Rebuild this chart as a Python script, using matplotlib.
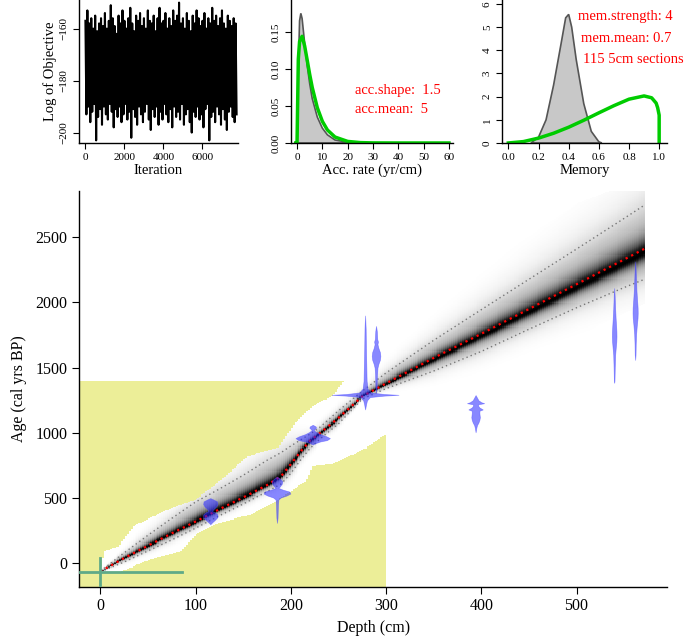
import numpy as np
import matplotlib
matplotlib.use("Agg")
import matplotlib.pyplot as plt
from matplotlib.patches import Rectangle

plt.rcParams['font.family'] = ['Liberation Serif', 'DejaVu Serif']

# ---- MCMC trace (one value kept every 50 iterations), alternating high / low swings
trace_step = 50
trace_hi = [-157, -153, -158, -156, -160, -155, -161, -158, -156, -159, -154, -160, -157,
            -151, -156, -159, -162, -155, -158, -153, -157, -160, -156, -152, -158, -161,
            -155, -157, -154, -159, -156, -160, -153, -157, -158, -155, -161, -156, -152,
            -158, -157, -154, -160, -156, -159, -153, -157, -155, -150, -158, -156, -160,
            -154, -157, -161, -155, -158, -153, -156, -159, -157, -154, -160, -156, -158,
            -152, -157, -155, -159, -156, -153, -158, -160, -155, -157, -159, -156, -158]
trace_lo = [-193, -190, -196, -192, -189, -203, -194, -191, -197, -190, -193, -195, -189,
            -192, -198, -191, -194, -190, -196, -193, -189, -195, -192, -202, -191, -194,
            -197, -190, -193, -196, -192, -189, -195, -199, -191, -194, -190, -197, -192,
            -195, -189, -193, -196, -191, -198, -190, -194, -192, -195, -189, -197, -193,
            -191, -196, -200, -192, -194, -190, -195, -193, -198, -191, -189, -203, -194,
            -192, -196, -190, -193, -197, -191, -195, -199, -192, -190, -194, -196, -193]

# ---- accumulation rate: posterior (grey) and prior (green)
acc_post_x = [0, 0.5, 1, 1.5, 2, 3, 4, 5, 6, 8, 10, 12, 15, 20, 25]
acc_post_y = [0, 0.10, 0.165, 0.175, 0.168, 0.135, 0.105, 0.08, 0.06, 0.035, 0.02, 0.011, 0.004, 0.001, 0]
acc_prior_x = [-0.5, 0, 0.5, 1, 2, 3, 4, 5, 6, 8, 10, 12, 15, 20, 25, 30, 40, 60]
acc_prior_y = [0, 0, 0.113, 0.137, 0.144, 0.131, 0.112, 0.0925, 0.075, 0.0476, 0.0292, 0.0175,
               0.008, 0.0021, 0.0005, 0.0001, 0, 0]
acc_shape, acc_mean = 1.5, 5

# ---- memory: posterior (grey) and prior (green)
mem_post_x = [0.15, 0.2, 0.25, 0.3, 0.35, 0.38, 0.4, 0.42, 0.45, 0.5, 0.55, 0.6, 0.62]
mem_post_y = [0, 0.25, 1.0, 2.5, 4.3, 5.4, 5.55, 5.0, 3.6, 1.7, 0.5, 0.05, 0]
mem_prior_x = [0, 0.1, 0.2, 0.3, 0.4, 0.5, 0.6, 0.7, 0.8, 0.9, 0.95, 0.98, 0.99, 1.0, 1.0]
mem_prior_y = [0, 0.06, 0.21, 0.42, 0.68, 0.98, 1.30, 1.61, 1.89, 2.03, 1.95, 1.72, 1.52, 1.2, 0]
mem_strength, mem_mean, n_sections, section_cm = 4, 0.7, 115, 5

# ---- age-depth model
depths = [0, 25, 50, 75, 100, 125, 150, 175, 190, 200, 210, 220, 230, 250, 275, 300,
          350, 400, 450, 500, 550, 572]
age_mean = [-62, 40, 135, 230, 320, 415, 505, 600, 670, 760, 855, 940, 995, 1115, 1280, 1380,
            1575, 1760, 1950, 2140, 2330, 2415]
age_mode = [-62, 38, 132, 226, 316, 410, 500, 595, 665, 755, 850, 935, 990, 1110, 1278, 1372,
            1560, 1742, 1925, 2112, 2300, 2385]
age_lo = [-64, 10, 95, 180, 270, 365, 455, 550, 610, 690, 790, 880, 950, 1070, 1260, 1340,
          1475, 1625, 1795, 1960, 2115, 2180]
age_hi = [-60, 80, 215, 345, 470, 570, 675, 790, 850, 900, 945, 990, 1040, 1170, 1320, 1460,
          1710, 1945, 2178, 2410, 2645, 2750]
# extent of the model image (white where unlikely)
white_top_d = [0, 5, 20, 35, 73, 101, 119, 140, 155, 188, 202, 223, 244, 257, 300, 400, 500, 572]
white_top = [-60, 90, 125, 280, 410, 485, 585, 715, 815, 885, 1046, 1200, 1277, 1400, 1700,
             2250, 2750, 2950]
white_bot_d = [0, 21, 56, 84, 101, 119, 160, 196, 216, 223, 244, 279, 300, 400, 500, 572]
white_bot = [-64, -55, 46, 100, 230, 307, 385, 538, 640, 754, 770, 892, 1000, 1380, 1750, 2000]

# yellow block and surface date
yellow_depth, yellow_age = 300, 1400
surf_age, surf_depth_max = -69, 86
surf_age_range = (-166, 40)

# calibrated dates: depth, ages and half widths (cm)
date_depths = [115.5, 185.5, 223, 278, 289.5, 394, 539.5, 561.5]
date_ages = [
    [500, 490, 475, 455, 435, 415, 400, 390, 375, 355, 335, 315, 300],
    [665, 650, 630, 610, 590, 578, 565, 550, 535, 520, 505, 490, 450, 400, 350, 310],
    [1062, 1050, 1040, 1030, 1020, 1005, 990, 975, 960, 945, 935, 925, 912],
    [1900, 1800, 1700, 1600, 1500, 1400, 1340, 1310, 1298, 1292, 1286, 1275, 1250, 1220, 1180],
    [1820, 1780, 1720, 1700, 1680, 1650, 1620, 1590, 1560, 1530, 1500, 1450, 1400, 1350, 1310],
    [1290, 1270, 1250, 1235, 1228, 1220, 1210, 1195, 1180, 1170, 1150, 1120, 1100, 1080, 1060, 1040, 1005],
    [2110, 2050, 1950, 1880, 1820, 1780, 1740, 1700, 1650, 1600, 1500, 1400, 1385],
    [2315, 2260, 2200, 2100, 2020, 1960, 1920, 1880, 1830, 1760, 1680, 1600, 1560],
]
date_widths = [
    [0, 3, 7, 7.5, 6, 3, 2, 5, 7.5, 7.5, 5, 2, 0],
    [0, 3, 5.5, 5, 3, 1.5, 6, 13, 14, 10, 4, 1.5, 1, 0.8, 0.6, 0],
    [0, 3, 3.5, 2, 1, 4, 8, 14, 18, 15, 8, 4, 0],
    [0, 0.6, 0.8, 1, 1.3, 1.6, 2.5, 6, 20, 35, 20, 5, 2, 1, 0],
    [0, 0.8, 1.2, 2, 1.5, 2.5, 4, 4.5, 4, 2.5, 1.5, 1, 0.8, 0.6, 0],
    [0, 1.5, 3, 6, 9, 3, 2.5, 4, 7.5, 4, 4, 4.5, 4, 3, 1.5, 0.8, 0],
    [0, 0.5, 1, 1.5, 2, 2.3, 2.4, 2.2, 1.6, 1, 0.6, 0.3, 0],
    [0, 0.5, 0.8, 1.3, 2, 2.6, 2.7, 2.5, 1.8, 1, 0.6, 0.4, 0],
]

green = '#00CC00'
red = '#FF0000'


def style(ax, fs):
    for s in ['top', 'right']:
        ax.spines[s].set_visible(False)
    for s in ['left', 'bottom']:
        ax.spines[s].set_linewidth(1.0)
    ax.tick_params(direction='out', labelsize=fs, length=4, width=0.8)


fig = plt.figure(figsize=(6.85, 6.4), dpi=100)

# ---- panel 1: trace
ax1 = fig.add_axes([0.1153, 0.7766, 0.2321, 0.2234])
trace = [v for pair in zip(trace_hi, trace_lo) for v in pair]
iters = np.arange(len(trace)) * trace_step
ax1.plot(iters, trace, color='black', lw=1.5)
ax1.set_xlim(-330, 7820)
ax1.set_ylim(-204, -149)
ax1.set_xticks([0, 2000, 4000, 6000])
ax1.set_yticks([-200, -180, -160])
style(ax1, 8)
ax1.tick_params(axis='y', labelrotation=90)
for t in ax1.get_yticklabels():
    t.set_va('center')
ax1.set_xlabel('Iteration', fontsize=10.5, labelpad=1)
ax1.set_ylabel('Log of Objective', fontsize=10.5, labelpad=2)

# ---- panel 2: accumulation rate
ax2 = fig.add_axes([0.4244, 0.7766, 0.2369, 0.2234])
ax2.fill(acc_post_x, acc_post_y, facecolor='#C8C8C8', edgecolor='#555555', lw=1.2)
ax2.plot(acc_prior_x, acc_prior_y, color=green, lw=2.5)
ax2.set_xlim(-2.5, 61.6)
ax2.set_ylim(0, 0.193)
ax2.set_xticks(range(0, 61, 10))
ax2.set_yticks([0, 0.05, 0.10, 0.15])
ax2.set_yticklabels(['0.00', '0.05', '0.10', '0.15'])
style(ax2, 8)
ax2.tick_params(axis='y', labelrotation=90)
for t in ax2.get_yticklabels():
    t.set_va('center')
ax2.set_xlabel('Acc. rate (yr/cm)', fontsize=10.5, labelpad=1)
ax2.text(22.9, 0.0709, 'acc.shape:  %g' % acc_shape, color=red, fontsize=10.5, va='center')
ax2.text(22.9, 0.0449, 'acc.mean:  %g' % acc_mean, color=red, fontsize=10.5, va='center')

# ---- panel 3: memory
ax3 = fig.add_axes([0.7333, 0.7766, 0.24, 0.2234])
ax3.fill(mem_post_x, mem_post_y, facecolor='#C8C8C8', edgecolor='#555555', lw=1.2)
ax3.plot(mem_prior_x, mem_prior_y, color=green, lw=2.5)
ax3.set_xlim(-0.04, 1.05)
ax3.set_ylim(0, 6.17)
ax3.set_xticks([0, 0.2, 0.4, 0.6, 0.8, 1.0])
ax3.set_xticklabels(['0.0', '0.2', '0.4', '0.6', '0.8', '1.0'])
ax3.set_yticks(range(0, 7))
style(ax3, 8)
ax3.tick_params(axis='y', labelrotation=90)
for t in ax3.get_yticklabels():
    t.set_va('center')
ax3.set_xlabel('Memory', fontsize=10.5, labelpad=1)
ax3.text(0.775, 5.46, 'mem.strength: %g' % mem_strength, color=red, fontsize=10.5,
         ha='center', va='center', clip_on=False)
ax3.text(0.78, 4.53, 'mem.mean: %g' % mem_mean, color=red, fontsize=10.5,
         ha='center', va='center', clip_on=False)
ax3.text(0.83, 3.59, '%d %dcm sections' % (n_sections, section_cm), color=red, fontsize=10.5,
         ha='center', va='center', clip_on=False)

# ---- main age-depth panel
ax = fig.add_axes([0.1158, 0.0833, 0.858, 0.6187])
xlim = (-22, 595)
ylim = (-179, 2857)
ax.add_patch(Rectangle((xlim[0], ylim[0]), yellow_depth - xlim[0], yellow_age - ylim[0],
                       facecolor='#ECEE98', edgecolor='none', zorder=0))

# grey-scale image of the model
d_edges = np.arange(0, 574, 2.0)
a_edges = np.arange(-80, 2960, 8.0)
dc = 0.5 * (d_edges[:-1] + d_edges[1:])
acn = 0.5 * (a_edges[:-1] + a_edges[1:])
m = np.interp(dc, depths, age_mode)[:, None]
s_up = np.maximum((np.interp(dc, depths, age_hi)[:, None] - m) / 1.96, 5)
s_dn = np.maximum((m - np.interp(dc, depths, age_lo)[:, None]) / 1.96, 5)
A = acn[None, :]
z = np.where(A > m, (A - m) / s_up, (A - m) / s_dn)
F = 0.5 * np.exp(-0.5 * (z / 0.4) ** 2) + 0.5 * np.exp(-0.5 * (z / 1.6) ** 2)
wt = np.interp(dc, white_top_d, white_top)[:, None]
wb = np.interp(dc, white_bot_d, white_bot)[:, None]
F = np.where((A >= wb - 8) & (A <= wt + 8), F, np.nan)
ax.pcolormesh(d_edges, a_edges, np.ma.masked_invalid(F.T), cmap='Greys', vmin=0, vmax=1,
              shading='flat', zorder=1, rasterized=True)

ax.plot(depths, age_lo, color='#777777', lw=1.0, ls=(0, (1, 2.2)), zorder=2)
ax.plot(depths, age_hi, color='#777777', lw=1.0, ls=(0, (1, 2.2)), zorder=2)
ax.plot(depths, age_mean, color=red, lw=1.6, ls=(0, (1, 1.8)), zorder=3)

# calibrated dates
for dep, ages, w in zip(date_depths, date_ages, date_widths):
    w = np.array(w)
    ax.fill_betweenx(ages, dep - w, dep + w, facecolor=(0.15, 0.15, 1.0, 0.55),
                     edgecolor=(0.3, 0.3, 1.0, 0.55), lw=0.5, zorder=4)

# surface date
ax.plot([xlim[0], surf_depth_max], [surf_age, surf_age], color='#5FAA88', lw=2, zorder=5)
ax.plot([0, 0], surf_age_range, color='#5FAA88', lw=2, zorder=5)

ax.set_xlim(*xlim)
ax.set_ylim(*ylim)
ax.set_xticks([0, 100, 200, 300, 400, 500])
ax.set_yticks([0, 500, 1000, 1500, 2000, 2500])
style(ax, 11.5)
ax.tick_params(length=5)
ax.set_xlabel('Depth (cm)', fontsize=11.5, labelpad=4)
ax.set_ylabel('Age (cal yrs BP)', fontsize=11.5, labelpad=6)

fig.savefig('out.png', dpi=100)
